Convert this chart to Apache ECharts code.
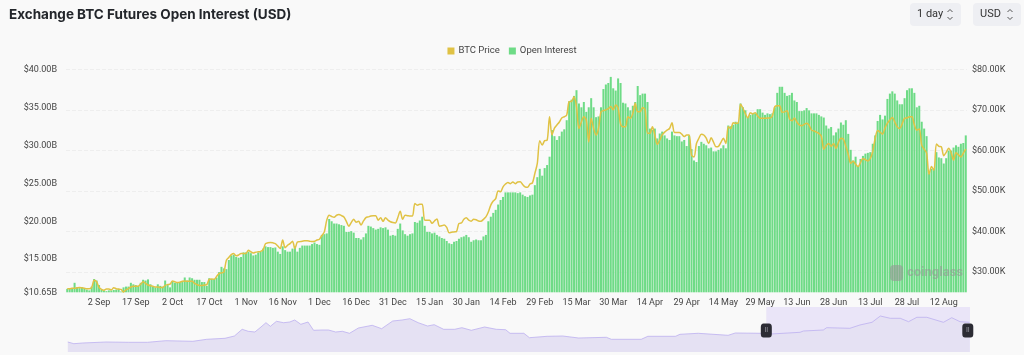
<!DOCTYPE html>
<html><head><meta charset="utf-8">
<style>html,body{margin:0;padding:0;background:#f9f9f9}#c{width:1024px;height:355px}</style>
<script src="https://cdn.jsdelivr.net/npm/echarts@6/dist/echarts.min.js"></script>
</head><body><div id="c"></div>
<script>
const startDate = '2023-08-20';
const firstTickIndex = 13;
const tickStep = 15;
const leftTicks = [10.65, 15, 20, 25, 30, 35, 40];
const rightTicks = [30, 40, 50, 60, 70, 80];
const openInterest = [
11.1,11.2,11.2,11.9,11.3,11.2,11.3,11.2,11.0,10.9,
11.4,12.4,12.2,11.6,11.0,10.9,10.8,10.9,10.9,10.95,
11.0,11.1,10.75,11.3,11.4,11.4,11.9,11.7,11.6,11.5,
11.9,12.3,12.2,12.35,11.7,11.4,11.3,11.7,11.5,11.4,
12.2,11.6,11.3,12.1,11.9,11.9,12.0,12.0,12.6,12.2,
12.6,12.5,12.3,12.3,12.3,12.0,12.0,11.5,12.5,12.4,
12.4,12.6,13.3,14.0,13.8,13.7,14.9,15.5,15.6,15.3,
15.2,15.3,15.9,15.9,16.0,15.8,15.5,15.6,15.9,16.0,
16.4,16.7,16.6,16.6,16.5,16.55,16.0,15.7,16.7,16.2,
16.0,16.0,16.4,16.7,16.0,16.5,16.8,16.8,16.8,16.8,
17.0,17.2,17.0,16.9,18.2,18.3,18.4,20.3,20.0,19.7,
19.7,19.6,19.5,19.4,18.6,18.6,18.7,18.5,17.8,17.8,
17.6,17.9,18.4,19.4,19.3,19.1,18.9,19.0,19.2,19.1,
19.2,18.9,18.1,18.2,18.1,19.0,19.7,18.8,18.3,18.1,
18.3,18.4,19.9,19.8,20.1,20.6,19.4,18.6,18.6,18.4,
18.5,18.2,18.0,17.8,17.7,17.4,17.1,17.0,17.3,17.4,
17.7,17.9,18.0,18.2,17.9,17.3,17.5,17.6,17.5,17.5,
18.0,18.2,20.0,20.6,21.1,21.5,22.2,22.8,23.2,23.8,
23.8,23.8,23.8,23.8,23.7,23.8,23.5,23.3,23.2,23.4,
23.5,24.75,25.8,26.9,26.0,27.0,27.4,28.5,32.0,31.2,
30.7,31.2,31.8,32.1,33.3,35.8,36.0,36.5,37.25,35.5,
35.0,35.7,34.4,35.0,36.2,35.0,33.7,33.8,35.0,37.4,
38.0,38.2,39.0,37.5,37.2,38.8,38.2,35.6,35.5,35.0,
34.6,35.2,35.7,37.8,36.6,36.8,36.8,35.7,32.2,32.0,
32.2,30.9,31.55,31.8,31.3,30.9,30.7,31.8,31.3,31.2,
31.2,30.5,30.7,29.9,31.3,29.5,28.0,27.8,29.9,30.45,
30.2,30.0,29.6,29.7,29.2,29.2,29.4,29.6,30.0,29.6,
32.6,32.5,32.7,33.1,33.0,35.5,35.0,34.6,33.7,34.0,
34.2,34.2,34.75,34.75,34.3,34.0,34.2,34.1,34.2,35.0,
36.9,37.7,37.7,36.9,36.5,36.6,36.9,35.9,35.7,34.5,
34.5,34.6,34.9,34.6,34.2,34.2,34.2,34.0,33.8,33.65,
32.6,32.2,32.4,31.3,31.7,32.2,33.0,32.7,33.3,31.5,
29.4,28.0,28.5,27.2,28.2,28.6,28.9,29.0,29.1,30.2,
31.3,33.2,34.0,33.4,33.9,36.1,36.8,37.1,36.8,35.9,
35.4,35.4,36.2,37.25,37.5,37.5,36.9,35.0,35.2,33.1,
32.2,31.2,26.3,26.9,26.9,29.1,28.4,28.3,27.6,28.3,
29.3,29.3,29.7,30.0,29.8,30.2,30.3,31.3
];
const btcPrice = [
25.9,25.9,26.0,26.0,26.1,26.2,26.1,26.0,25.9,25.9,
26.2,28.0,27.6,26.2,25.7,25.5,25.8,25.8,25.6,26.1,
25.9,25.8,25.7,25.1,25.6,25.9,26.3,26.5,26.5,26.5,
27.0,27.6,27.2,26.8,26.6,26.5,26.3,26.3,26.2,26.2,
26.7,26.9,27.0,27.8,27.6,27.4,27.5,27.7,27.8,27.7,
27.7,27.7,27.2,26.9,26.7,26.7,26.8,26.9,28.2,28.3,
28.2,28.9,29.6,29.8,30.0,32.9,33.6,34.3,34.6,34.0,
34.2,34.6,34.6,34.6,35.4,35.0,34.7,34.9,35.0,35.1,
35.5,37.0,37.2,37.3,37.2,37.0,36.4,35.8,37.9,36.0,
36.6,37.0,37.6,35.8,37.4,37.5,37.6,37.7,37.7,37.6,
37.5,37.6,37.9,38.1,39.0,39.9,42.8,44.0,43.7,43.5,
44.0,44.2,43.9,43.6,42.5,41.3,42.2,43.0,42.3,42.5,
41.6,42.6,43.4,43.6,43.8,43.9,43.9,42.8,43.4,42.5,
43.4,42.8,42.4,42.2,42.1,43.4,45.0,43.0,44.0,43.9,
43.8,43.8,46.9,46.5,46.7,46.7,42.8,42.8,42.8,42.0,
42.6,43.1,41.3,41.4,41.6,41.0,39.7,39.8,39.9,40.0,
42.0,42.1,43.0,43.4,42.8,42.55,43.0,42.9,42.6,42.55,
43.0,43.6,44.8,46.5,47.5,48.1,50.0,49.8,51.0,51.7,
52.1,51.8,52.2,51.8,52.2,52.25,51.6,51.0,50.9,51.7,
52.0,54.3,56.8,62.4,61.3,62.4,62.5,68.3,63.8,65.5,
66.25,67.0,68.0,68.3,68.7,72.0,72.1,73.2,70.8,65.4,
67.0,68.3,67.5,62.1,67.9,65.4,63.8,65.4,69.5,69.8,
70.0,70.3,70.8,70.0,71.2,70.5,66.5,65.8,65.8,68.3,
67.9,69.1,71.6,69.5,69.5,70.6,70.1,64.2,64.2,65.8,
63.8,61.5,62.5,63.8,64.5,65.0,65.4,66.8,64.4,64.4,
64.4,64.0,63.4,63.8,63.8,58.8,58.4,61.7,63.0,64.0,
63.8,63.0,61.7,63.1,62.0,60.9,61.0,62.0,63.0,61.7,
65.8,65.4,66.8,66.7,66.7,71.4,70.4,69.0,68.0,69.3,
69.0,69.3,68.5,67.9,67.9,67.9,68.0,68.0,68.5,70.8,
71.0,71.0,69.4,69.5,69.8,67.8,67.3,68.0,67.0,66.3,
66.1,66.4,66.7,66.2,65.0,64.8,64.5,64.2,63.5,60.3,
61.2,61.7,61.0,61.7,60.5,62.0,63.0,62.8,61.0,59.0,
56.8,57.3,56.6,56.0,57.0,58.0,57.7,57.4,58.0,59.7,
63.0,64.9,64.5,64.0,65.5,66.7,67.5,68.1,67.0,65.8,
65.4,66.5,67.9,68.0,68.3,68.3,66.3,65.0,65.3,61.3,
60.3,59.3,54.1,56.0,55.1,61.6,61.0,60.9,58.7,59.5,
60.5,59.5,57.6,59.4,58.9,58.4,59.3,60.3
];
const miniDays = [0,11,27,69,110,144,177,226,251,284,301,315,326,338,349,358,366,377,390,401,410,421,434,444,459,471,484,496,509,525,550,567,587,604,618,633,650,662,679,699,712,729,753,774,791,799,824,834,866,894,923,973,982,1036,1048,1098,1106,1139,1193,1206,1255,1261,1323,1329,1365,1371,1413,1431,1453,1468,1486,1504,1519,1534,1552,1582,1597,1612,1629];
const miniValues = [10,8.3,9,10,9.7,9.7,11.3,10.7,12.7,13.7,16,22.7,20.7,20,25,29.3,25.7,30.7,29.3,30,32,27.7,30,21.7,22,22,20,20.7,18.7,24,26.7,23.3,31,32,33.3,29.3,26,27.3,22.7,22.7,24.3,21.7,25,22.7,22.3,18.7,18.7,14.3,15.7,16,14,14.7,12.7,12.7,15.7,15.7,17.7,18.7,16.7,19,18.7,17.7,19.7,21,22,24.3,23.7,27,29.7,36,33.7,33.7,30.3,34.7,34.7,29.7,34.3,30.3,29.7];
const miniSpan = 1630;

const months = ['Jan','Feb','Mar','Apr','May','Jun','Jul','Aug','Sep','Oct','Nov','Dec'];
const categories = openInterest.map((_, i) => {
  const d = new Date(Date.parse(startDate + 'T00:00:00Z') + i * 864e5);
  return d.getUTCDate() + ' ' + months[d.getUTCMonth()];
});
const FONT = 'Roboto';
const axisText = { color:'#444', fontSize:9, fontFamily:FONT };
const selStart = miniSpan - openInterest.length;

function selectBox(x, w, label) {
  const y = 3, h = 23, cx = x + w - 11;
  return { type:'group', children:[
    { type:'rect', shape:{x, y, width:w, height:h, r:4}, style:{fill:'#eeeff3'} },
    { type:'text', style:{x:x+7, y:y+h/2, text:label, fill:'#333', font:'11px '+FONT, verticalAlign:'middle'} },
    { type:'polyline', shape:{points:[[cx-2.5,y+9],[cx,y+6.5],[cx+2.5,y+9]]}, style:{stroke:'#555', fill:'none', lineWidth:1} },
    { type:'polyline', shape:{points:[[cx-2.5,y+14],[cx,y+16.5],[cx+2.5,y+14]]}, style:{stroke:'#555', fill:'none', lineWidth:1} }
  ]};
}

const chart = echarts.init(document.getElementById('c'), null, {renderer:'canvas'});
chart.setOption({
  animation:false,
  backgroundColor:'#f9f9f9',
  title:{ text:'Exchange BTC Futures Open Interest (USD)', left:9, top:8, padding:0,
    textStyle:{ fontFamily:'Inter', fontWeight:700, fontSize:13.5, color:'#23262b' } },
  legend:{ top:41, left:'center', itemWidth:7, itemHeight:7, itemGap:9, icon:'rect',
    data:['BTC Price','Open Interest'],
    textStyle:{ color:'#444', fontSize:9.5, fontFamily:FONT, padding:[0,0,0,-1] } },
  grid:[
    { left:66, right:57, top:69.3, height:223 },
    { left:67.8, right:54, top:307, height:45 }
  ],
  xAxis:[
    { type:'category', gridIndex:0, data:categories, boundaryGap:true,
      axisLine:{show:false}, axisTick:{show:false},
      axisLabel:{ ...axisText, margin:6, hideOverlap:false,
        interval:(i) => i >= firstTickIndex && (i - firstTickIndex) % tickStep === 0 } },
    { type:'value', gridIndex:1, min:0, max:miniSpan, show:false }
  ],
  yAxis:[
    { type:'value', gridIndex:0, position:'left', min:10.65, max:40,
      splitLine:{show:false}, axisLine:{show:false}, axisTick:{show:false},
      axisLabel:{ ...axisText, margin:9, customValues:leftTicks,
        formatter:v => '$' + v.toFixed(2) + 'B' } },
    { type:'value', gridIndex:0, position:'right', min:25, max:80,
      axisLine:{show:false},
      axisTick:{show:false, customValues:rightTicks},
      splitLine:{show:true, lineStyle:{color:'#eeeeee', type:'dashed', width:1}},
      axisLabel:{ ...axisText, margin:5, customValues:rightTicks,
        formatter:v => '$' + v.toFixed(2) + 'K' } },
    { type:'value', gridIndex:1, min:0, max:45, show:false }
  ],
  series:[
    { name:'BTC Price', type:'line', xAxisIndex:0, yAxisIndex:1, data:btcPrice, z:5,
      smooth:0.3, showSymbol:false, symbol:'none',
      lineStyle:{color:'#e0c244', width:1.5}, itemStyle:{color:'#e0c244'} },
    { name:'Open Interest', type:'bar', xAxisIndex:0, yAxisIndex:0, data:openInterest, z:2,
      barCategoryGap:'18%', itemStyle:{color:'#6edb86'} },
    { name:'mini', type:'line', xAxisIndex:1, yAxisIndex:2, z:3,
      data:miniDays.map((d,i) => [d, miniValues[i]]),
      showSymbol:false, symbol:'none', silent:true,
      lineStyle:{color:'#bdb0f0', width:0.8}, areaStyle:{color:'#e5e1f3', opacity:1},
      markArea:{ silent:true, itemStyle:{color:'rgba(150,115,240,0.15)'},
        data:[[{xAxis:selStart, yAxis:0},{xAxis:miniSpan, yAxis:45}]] },
      markPoint:{ silent:true, symbol:'roundRect', symbolSize:[11,14],
        itemStyle:{color:'#2c2c34'},
        label:{ show:true, formatter:'II', color:'#9a9aa2', fontSize:7, fontFamily:FONT },
        data:[ {coord:[selStart, 21.5]}, {coord:[miniSpan-4, 21.5]} ] } }
  ],
  graphic:[
    selectBox(910, 51, '1 day'),
    selectBox(973, 48, 'USD'),
    { type:'group', z:100, children:[
      { type:'rect', z:100, shape:{x:890, y:265, width:13, height:16, r:4}, style:{fill:'rgba(150,150,150,0.6)'} },
      { type:'text', z:100, style:{x:907, y:273, text:'coinglass', fill:'rgba(150,150,150,0.6)',
        font:'bold 13px '+FONT, verticalAlign:'middle'} }
    ]}
  ]
});
</script></body></html>
